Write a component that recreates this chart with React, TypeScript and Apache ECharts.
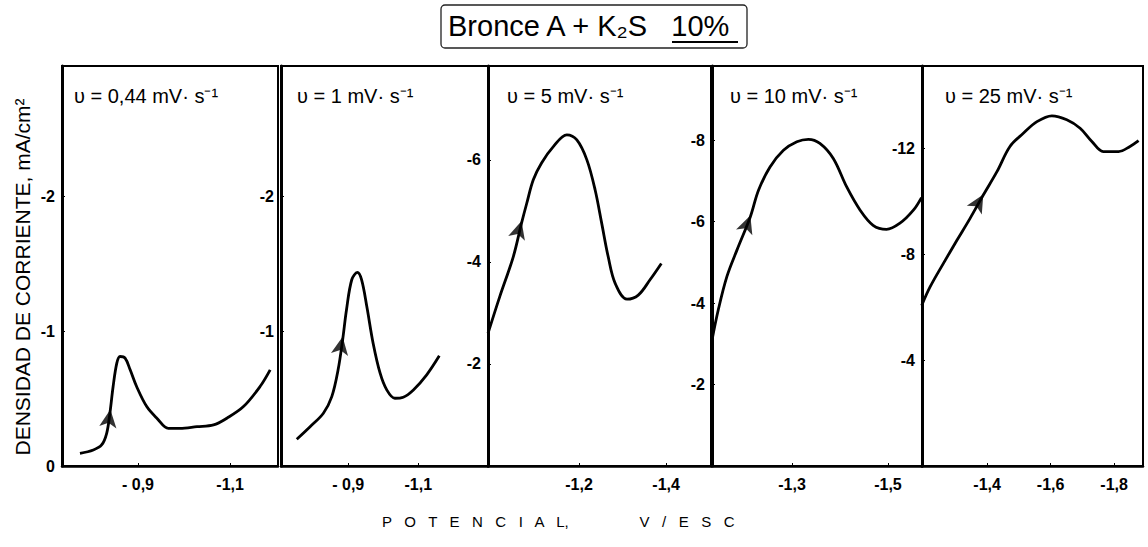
import React, { useEffect, useRef } from "react";
import * as echarts from "echarts";

// ---------- DATA ----------
const titleText = "Bronce A + K₂S   10%";
const yAxisTitle = "DENSIDAD DE CORRIENTE, mA/cm²";
const xAxisTitle = "P   O   T   E   N   C   I   A   L,                 V   /   E   S   C";
const panelLabels = ["υ = 0,44 mV· s⁻¹", "υ = 1 mV· s⁻¹", "υ = 5 mV· s⁻¹", "υ = 10 mV· s⁻¹", "υ = 25 mV· s⁻¹"];

// potential (V/ESC), current density (mA/cm²)
const curve044: [number, number][] = [
  [-0.774, -0.094], [-0.803, -0.119], [-0.821, -0.156], [-0.832, -0.243], [-0.839, -0.392],
  [-0.846, -0.59], [-0.854, -0.764], [-0.861, -0.813], [-0.872, -0.801], [-0.883, -0.714],
  [-0.897, -0.59], [-0.919, -0.441], [-0.941, -0.355], [-0.966, -0.28], [-0.991, -0.28],
  [-1.028, -0.292], [-1.064, -0.305], [-1.093, -0.355], [-1.129, -0.441], [-1.165, -0.59],
  [-1.187, -0.714],
];
const curve1: [number, number][] = [
  [-0.753, -0.199], [-0.791, -0.292], [-0.829, -0.392], [-0.853, -0.515], [-0.871, -0.714],
  [-0.884, -0.937], [-0.895, -1.16], [-0.91, -1.383], [-0.926, -1.437], [-0.938, -1.383],
  [-0.953, -1.184], [-0.971, -0.912], [-0.991, -0.689], [-1.01, -0.565], [-1.033, -0.503],
  [-1.057, -0.511], [-1.086, -0.565], [-1.124, -0.677], [-1.16, -0.818],
];
const curve5: [number, number][] = [
  [-0.991, -2.6], [-1.018, -3.32], [-1.049, -4.1], [-1.068, -4.76], [-1.08, -5.15],
  [-1.095, -5.61], [-1.114, -5.94], [-1.141, -6.26], [-1.172, -6.49], [-1.195, -6.39],
  [-1.218, -6.0], [-1.237, -5.41], [-1.252, -4.76], [-1.267, -4.1], [-1.283, -3.58],
  [-1.31, -3.27], [-1.336, -3.35], [-1.363, -3.65], [-1.389, -3.97],
];
const curve10: [number, number][] = [
  [-1.133, -3.09], [-1.146, -3.83], [-1.164, -4.65], [-1.185, -5.3], [-1.213, -6.12],
  [-1.23, -6.77], [-1.254, -7.34], [-1.282, -7.75], [-1.31, -7.96], [-1.334, -8.02],
  [-1.358, -7.92], [-1.386, -7.55], [-1.414, -6.85], [-1.442, -6.28], [-1.469, -5.91],
  [-1.497, -5.81], [-1.525, -5.96], [-1.553, -6.28], [-1.57, -6.59],
];
const curve25: [number, number][] = [
  [-1.194, -6.06], [-1.22, -6.75], [-1.262, -7.64], [-1.305, -8.52], [-1.346, -9.34],
  [-1.388, -10.23], [-1.431, -11.11], [-1.472, -12.06], [-1.514, -12.56], [-1.557, -13.0],
  [-1.604, -13.22], [-1.651, -13.07], [-1.693, -12.75], [-1.73, -12.25], [-1.766, -11.87],
  [-1.814, -11.87], [-1.85, -12.06], [-1.877, -12.28],
];
const curves = [curve044, curve1, curve5, curve10, curve25];

// arrow heads marking sweep direction
const arrowPoints: [number, number][] = [
  [-0.84, -0.42], [-0.884, -0.96], [-1.068, -4.8], [-1.213, -6.15], [-1.388, -10.25],
];

// axis ticks and extents
const xTickValues = [[-0.9, -1.1], [-0.9, -1.1], [-1.2, -1.4], [-1.3, -1.5], [-1.4, -1.6, -1.8]];
const yTickValues = [[0, -1, -2], [-1, -2], [-2, -4, -6], [-2, -4, -6, -8], [-4, -8, -12]];
const xMins = [-1.204, -1.299, -1.503, -1.571, -1.891];
const xMaxs = [-0.735, -0.708, -0.991, -1.133, -1.195];
const yMins = [-2.97, -2.97, -7.84, -9.82, -15.1];

// ---------- LAYOUT / STYLE ----------
const FONT = "'Liberation Sans', Arial, Helvetica, sans-serif";
const gridLefts = [62, 281, 488, 712, 922];
const gridWidths = [216, 207, 223, 210, 221];
const gridTop = 66;
const gridHeight = 400;
const labelOffsets = [12, 16, 19, 18, 23];
const arrowRotations = [-8, -10, -16, -20, -30];

function fmtX(v: number): string {
  const a = Math.abs(v);
  const s = a.toFixed(1).replace(".", ",");
  return a < 1 ? "- " + s : "-" + s;
}

export default function App() {
  const ref = useRef<HTMLDivElement>(null);
  useEffect(() => {
    document.body.style.margin = "0";
    if (!ref.current) return;
    const chart = echarts.init(ref.current, null, { renderer: "svg" });

    const grid = gridLefts.map((l, i) => ({
      left: l,
      top: gridTop,
      width: gridWidths[i],
      height: gridHeight,
      show: true,
      borderColor: "#000",
      borderWidth: 2,
    }));

    const xAxis = gridLefts.map((_, i) => ({
      type: "value",
      gridIndex: i,
      inverse: true,
      min: xMins[i],
      max: xMaxs[i],
      splitLine: { show: false },
      axisLine: { show: true, lineStyle: { color: "#000", width: 2.5 } },
      axisTick: { show: true, inside: true, length: 3, customValues: xTickValues[i], lineStyle: { color: "#000" } },
      axisLabel: {
        customValues: xTickValues[i],
        formatter: (v: number) => fmtX(v),
        color: "#000",
        fontFamily: FONT,
        fontWeight: "bold",
        fontSize: 16,
        margin: 10,
      },
    }));

    const yAxis = gridLefts.map((_, i) => ({
      type: "value",
      gridIndex: i,
      inverse: true,
      min: yMins[i],
      max: 0,
      splitLine: { show: false },
      axisLine: { show: true, lineStyle: { color: "#000", width: 3 } },
      axisTick: { show: true, inside: true, length: 3, customValues: yTickValues[i], lineStyle: { color: "#000" } },
      axisLabel: {
        customValues: yTickValues[i],
        formatter: (v: number) => String(v),
        color: "#000",
        fontFamily: FONT,
        fontWeight: "bold",
        fontSize: 16,
        margin: 7,
      },
    }));

    const series: any[] = [];
    curves.forEach((c, i) => {
      series.push({
        type: "line",
        xAxisIndex: i,
        yAxisIndex: i,
        data: c,
        smooth: 0.35,
        showSymbol: false,
        lineStyle: { color: "#000", width: 2.8 },
      });
      series.push({
        type: "scatter",
        xAxisIndex: i,
        yAxisIndex: i,
        data: [arrowPoints[i]],
        symbol: "arrow",
        symbolSize: [13, 18],
        symbolRotate: arrowRotations[i],
        itemStyle: { color: "#000" },
      });
    });

    const graphic: any[] = [
      {
        type: "rect",
        shape: { x: 441, y: 5, width: 306, height: 43, r: 4 },
        style: { fill: "none", stroke: "#222", lineWidth: 1.3 },
      },
      {
        type: "text",
        x: 448,
        y: 26,
        style: {
          text: titleText,
          font: `29px ${FONT}`,
          fill: "#000",
          textAlign: "left",
          textVerticalAlign: "middle",
        },
      },
      {
        type: "line",
        shape: { x1: 672, y1: 42, x2: 738, y2: 42 },
        style: { stroke: "#000", lineWidth: 2 },
      },
      {
        type: "text",
        x: 22,
        y: 277,
        rotation: Math.PI / 2,
        style: {
          text: yAxisTitle,
          font: `21px ${FONT}`,
          fill: "#000",
          textAlign: "center",
          textVerticalAlign: "middle",
        },
      },
      {
        type: "text",
        x: 382,
        y: 521,
        style: {
          text: xAxisTitle,
          font: `15px ${FONT}`,
          fill: "#000",
          textAlign: "left",
          textVerticalAlign: "middle",
        },
      },
    ];
    panelLabels.forEach((t, i) => {
      graphic.push({
        type: "text",
        x: gridLefts[i] + labelOffsets[i],
        y: 96,
        style: {
          text: t,
          font: `20px ${FONT}`,
          fill: "#000",
          textAlign: "left",
          textVerticalAlign: "middle",
        },
      });
    });

    chart.setOption({
      animation: false,
      backgroundColor: "#fff",
      grid,
      xAxis,
      yAxis,
      series,
      graphic,
    });
    return () => chart.dispose();
  }, []);
  return <div ref={ref} style={{ width: 1148, height: 547 }} />;
}
